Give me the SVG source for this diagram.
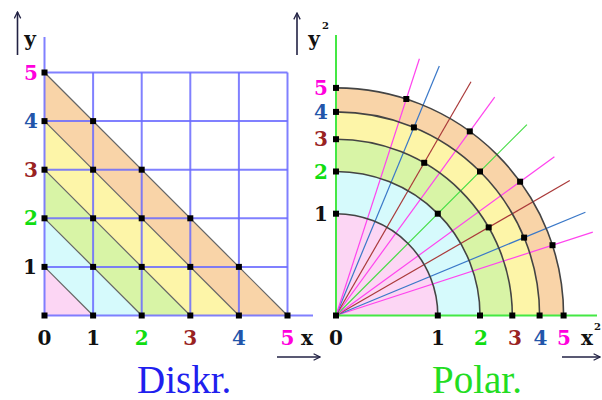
<svg xmlns="http://www.w3.org/2000/svg" width="602" height="400" viewBox="0 0 602 400">
<style>
.lbl{font-family:"DejaVu Serif","Liberation Serif",serif;font-weight:bold;font-size:20px;text-anchor:middle}
.sup{font-family:"DejaVu Serif","Liberation Serif",serif;font-weight:bold;font-size:10px}
.big{font-family:"Liberation Serif","DejaVu Serif",serif;font-size:39px}
.k{fill:#111}.m{fill:#ff00dd}.b{fill:#2255aa}.r{fill:#992222}.g{fill:#11dd11}
.grid{stroke:#6a6aff;stroke-width:2;stroke-opacity:0.85;fill:none}
.diag{stroke:#666;stroke-width:1.2;fill:none}
.arc{stroke:#444;stroke-width:1.6;fill:none}
.ray{stroke-width:1.2;fill:none}
.dot{fill:#000}
.arr{stroke:#222244;stroke-width:1.6;fill:none}
</style>
<defs>
<marker id="ah" viewBox="0 0 10 10" refX="9" refY="5" markerWidth="8" markerHeight="8" orient="auto" markerUnits="userSpaceOnUse">
<polyline points="1,1 9,5 1,9" fill="none" stroke="#222244" stroke-width="1.6"/>
</marker>
<rect id="d" x="-3" y="-3" width="6" height="6"/>
</defs>
<rect width="602" height="400" fill="#fff"/>

<g id="left-panel">
<polygon points="44.5,121.1 238.9,315.5 287.5,315.5 44.5,72.5" fill="#f9d4a8"/>
<polygon points="44.5,169.7 190.3,315.5 238.9,315.5 44.5,121.1" fill="#fdf5a8"/>
<polygon points="44.5,218.3 141.7,315.5 190.3,315.5 44.5,169.7" fill="#d8f4a6"/>
<polygon points="44.5,266.9 93.1,315.5 141.7,315.5 44.5,218.3" fill="#d6fafc"/>
<polygon points="44.5,315.5 93.1,315.5 44.5,266.9" fill="#fcd6f4"/>
<g class="grid">
<line x1="44.5" y1="37" x2="44.5" y2="315.5"/>
<line x1="93.1" y1="72.5" x2="93.1" y2="315.5"/>
<line x1="141.7" y1="72.5" x2="141.7" y2="315.5"/>
<line x1="190.3" y1="72.5" x2="190.3" y2="315.5"/>
<line x1="238.9" y1="72.5" x2="238.9" y2="315.5"/>
<line x1="287.5" y1="72.5" x2="287.5" y2="315.5"/>
<line x1="44.5" y1="72.5" x2="287.5" y2="72.5"/>
<line x1="44.5" y1="121.1" x2="287.5" y2="121.1"/>
<line x1="44.5" y1="169.7" x2="287.5" y2="169.7"/>
<line x1="44.5" y1="218.3" x2="287.5" y2="218.3"/>
<line x1="44.5" y1="266.9" x2="287.5" y2="266.9"/>
<line x1="44.5" y1="315.5" x2="313" y2="315.5"/>
</g>
<g class="diag">
<line x1="44.5" y1="266.9" x2="93.1" y2="315.5"/>
<line x1="44.5" y1="218.3" x2="141.7" y2="315.5"/>
<line x1="44.5" y1="169.7" x2="190.3" y2="315.5"/>
<line x1="44.5" y1="121.1" x2="238.9" y2="315.5"/>
<line x1="44.5" y1="72.5" x2="287.5" y2="315.5"/>
</g>
<g class="dot">
<use href="#d" x="44.5" y="315.5"/><use href="#d" x="93.1" y="315.5"/><use href="#d" x="141.7" y="315.5"/><use href="#d" x="190.3" y="315.5"/><use href="#d" x="238.9" y="315.5"/><use href="#d" x="287.5" y="315.5"/>
<use href="#d" x="44.5" y="266.9"/><use href="#d" x="93.1" y="266.9"/><use href="#d" x="141.7" y="266.9"/><use href="#d" x="190.3" y="266.9"/><use href="#d" x="238.9" y="266.9"/>
<use href="#d" x="44.5" y="218.3"/><use href="#d" x="93.1" y="218.3"/><use href="#d" x="141.7" y="218.3"/><use href="#d" x="190.3" y="218.3"/>
<use href="#d" x="44.5" y="169.7"/><use href="#d" x="93.1" y="169.7"/><use href="#d" x="141.7" y="169.7"/>
<use href="#d" x="44.5" y="121.1"/><use href="#d" x="93.1" y="121.1"/>
<use href="#d" x="44.5" y="72.5"/>
</g>
<text class="lbl m" x="31" y="80">5</text>
<text class="lbl b" x="31" y="128">4</text>
<text class="lbl r" x="31" y="177">3</text>
<text class="lbl g" x="31" y="225">2</text>
<text class="lbl k" x="30" y="274">1</text>
<text class="lbl k" x="44.5" y="345">0</text>
<text class="lbl k" x="93.1" y="345">1</text>
<text class="lbl g" x="141.7" y="345">2</text>
<text class="lbl r" x="190.3" y="345">3</text>
<text class="lbl b" x="238.9" y="345">4</text>
<text class="lbl m" x="287.5" y="345">5</text>
<text class="lbl k" x="307" y="345">x</text>
<text class="lbl k" x="30" y="46">y</text>
<line class="arr" x1="17.5" y1="55" x2="17.5" y2="12" marker-end="url(#ah)"/>
<line class="arr" x1="277" y1="357" x2="320" y2="357" marker-end="url(#ah)"/>
<text class="big" x="137" y="393" fill="#2020ee">Diskr.</text>
</g>

<g id="right-panel">
<path d="M336,315.5 L563.6,315.5 A227.6,227.6 0 0 0 336,87.9 Z" fill="#f9d4a8"/>
<path d="M336,315.5 L539.6,315.5 A203.6,203.6 0 0 0 336,111.9 Z" fill="#fdf5a8"/>
<path d="M336,315.5 L512.3,315.5 A176.3,176.3 0 0 0 336,139.2 Z" fill="#d8f4a6"/>
<path d="M336,315.5 L480,315.5 A144,144 0 0 0 336,171.5 Z" fill="#d6fafc"/>
<path d="M336,315.5 L437.8,315.5 A101.8,101.8 0 0 0 336,213.7 Z" fill="#fcd6f4"/>
<g id="rays" class="ray">
<line x1="336" y1="315.5" x2="592.8" y2="232.1" stroke="#ff44ee"/>
<line x1="336" y1="315.5" x2="585.4" y2="212.2" stroke="#3a78c8"/>
<line x1="336" y1="315.5" x2="569.8" y2="180.5" stroke="#aa3a3a"/>
<line x1="336" y1="315.5" x2="554.4" y2="156.8" stroke="#ff44ee"/>
<line x1="336" y1="315.5" x2="526.9" y2="124.6" stroke="#44dd44"/>
<line x1="336" y1="315.5" x2="494.7" y2="97.1" stroke="#ff44ee"/>
<line x1="336" y1="315.5" x2="471" y2="81.7" stroke="#aa3a3a"/>
<line x1="336" y1="315.5" x2="439.3" y2="66.1" stroke="#3a78c8"/>
<line x1="336" y1="315.5" x2="419.4" y2="58.7" stroke="#ff44ee"/>
</g>
<g class="arc">
<path d="M563.6,315.5 A227.6,227.6 0 0 0 336,87.9"/>
<path d="M539.6,315.5 A203.6,203.6 0 0 0 336,111.9"/>
<path d="M512.3,315.5 A176.3,176.3 0 0 0 336,139.2"/>
<path d="M480,315.5 A144,144 0 0 0 336,171.5"/>
<path d="M437.8,315.5 A101.8,101.8 0 0 0 336,213.7"/>
</g>
<g stroke="#44e844" stroke-width="2">
<line x1="336" y1="35" x2="336" y2="315.5"/>
<line x1="336" y1="315.5" x2="597" y2="315.5"/>
</g>
<g class="dot">
<use href="#d" x="336" y="315.5"/>
<use href="#d" x="563.6" y="315.5"/><use href="#d" x="552.5" y="245.2"/><use href="#d" x="520.1" y="181.7"/><use href="#d" x="469.8" y="131.4"/><use href="#d" x="406.3" y="99"/><use href="#d" x="336" y="87.9"/>
<use href="#d" x="539.6" y="315.5"/><use href="#d" x="524.1" y="237.6"/><use href="#d" x="480" y="171.5"/><use href="#d" x="413.9" y="127.4"/><use href="#d" x="336" y="111.9"/>
<use href="#d" x="512.3" y="315.5"/><use href="#d" x="488.7" y="227.4"/><use href="#d" x="424.2" y="162.8"/><use href="#d" x="336" y="139.2"/>
<use href="#d" x="480" y="315.5"/><use href="#d" x="437.8" y="213.7"/><use href="#d" x="336" y="171.5"/>
<use href="#d" x="437.8" y="315.5"/><use href="#d" x="336" y="213.7"/>
</g>
<text class="lbl m" x="321" y="95">5</text>
<text class="lbl b" x="321" y="119">4</text>
<text class="lbl r" x="321" y="146">3</text>
<text class="lbl g" x="321" y="179">2</text>
<text class="lbl k" x="321" y="221">1</text>
<text class="lbl k" x="336" y="345">0</text>
<text class="lbl k" x="438" y="345">1</text>
<text class="lbl g" x="481" y="345">2</text>
<text class="lbl r" x="515" y="345">3</text>
<text class="lbl b" x="540.5" y="345">4</text>
<text class="lbl m" x="564" y="345">5</text>
<text class="lbl k" x="587" y="345">x</text>
<text class="sup k" x="594" y="330">2</text>
<text class="lbl k" x="314" y="46">y</text>
<text class="sup k" x="322" y="29">2</text>
<line class="arr" x1="297" y1="55" x2="297" y2="13" marker-end="url(#ah)"/>
<line class="arr" x1="562" y1="357" x2="600" y2="357" marker-end="url(#ah)"/>
<text class="big" x="432" y="393" fill="#22dd22">Polar.</text>
</g>
</svg>
